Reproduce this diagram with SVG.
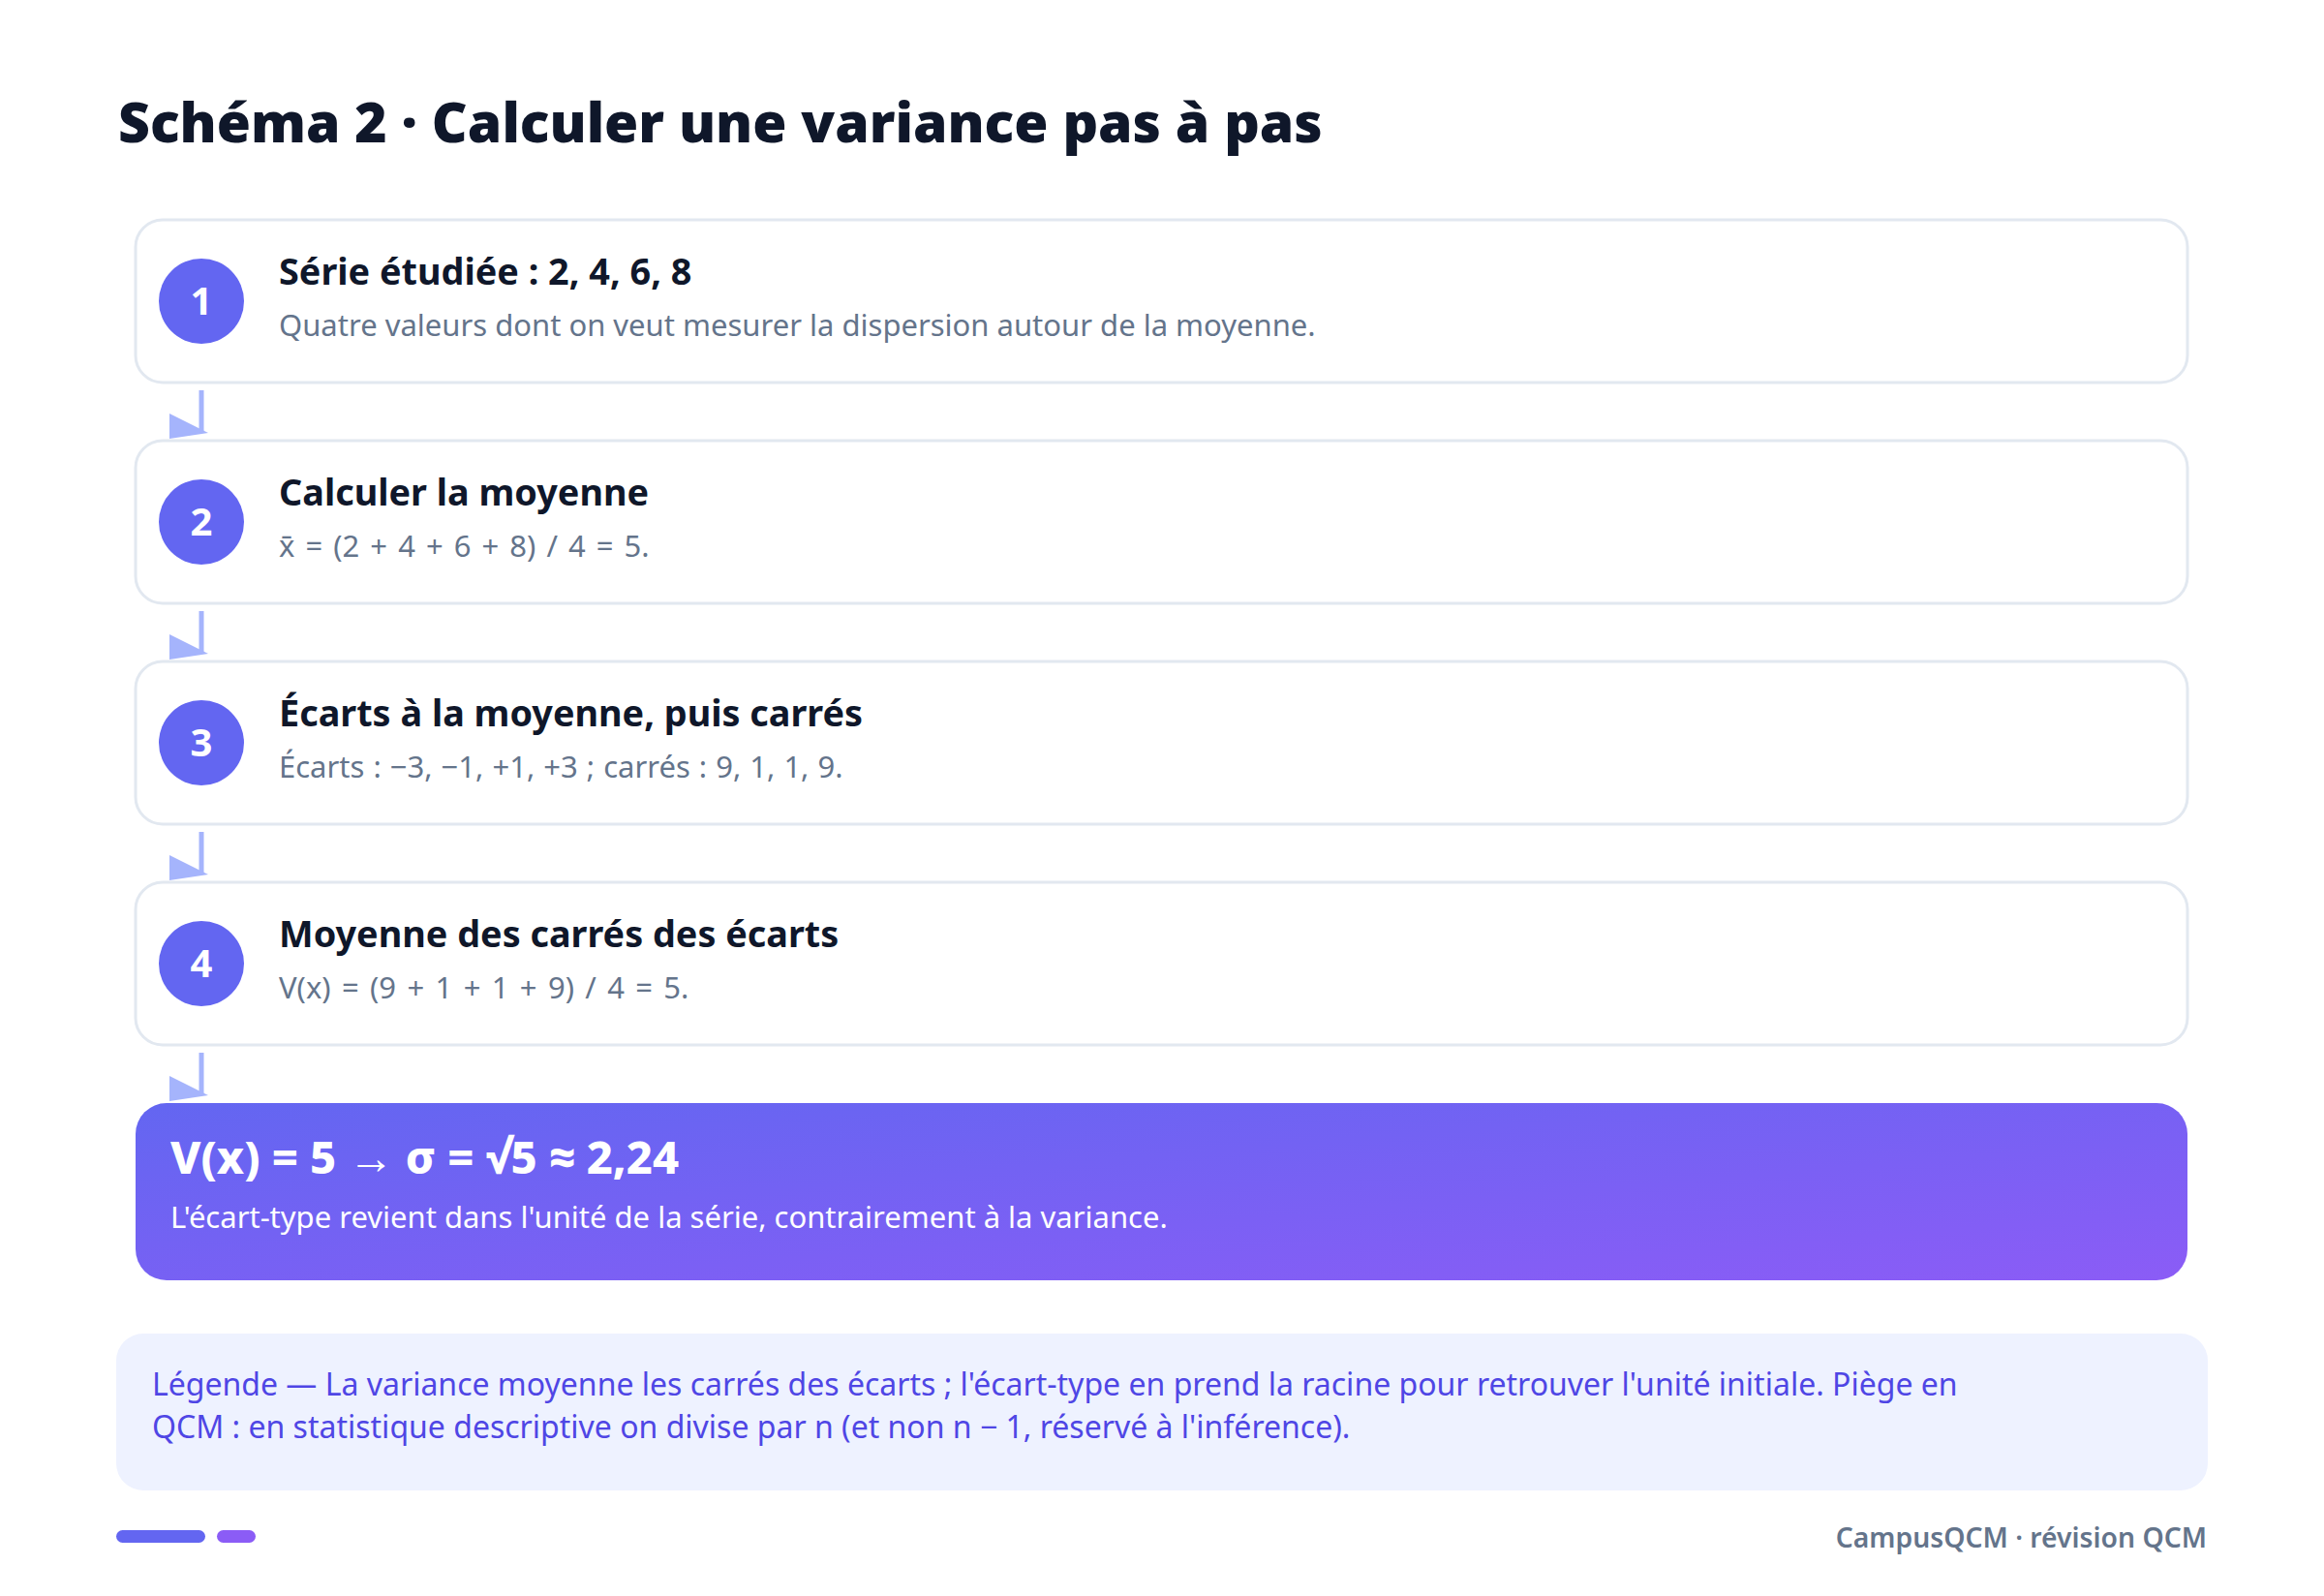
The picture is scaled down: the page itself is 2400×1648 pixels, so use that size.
<svg xmlns="http://www.w3.org/2000/svg" width="2400" height="1648" viewBox="0 0 2400 1648">
  <defs>
    <linearGradient id="resGrad" x1="0" y1="0" x2="1" y2="1">
      <stop offset="0" stop-color="#6366f1"/>
      <stop offset="1" stop-color="#8b5cf6"/>
    </linearGradient>
    <style>
      .card { fill: #ffffff; stroke: #e2e8f0; stroke-width: 3; }
      .badge { fill: #6366f1; }
      .num { font-family: "Noto Sans", "Open Sans", sans-serif; font-weight: 700; font-size: 40px; fill: #ffffff; text-anchor: middle; }
      .ttl { font-family: "Noto Sans", "Open Sans", sans-serif; font-weight: 700; font-size: 37.8px; fill: #0f172a; }
      .sub { font-family: "Noto Sans", "Open Sans", sans-serif; font-weight: 400; font-size: 31px; fill: #64748b; }
      .conn { stroke: #a5b4fc; stroke-width: 5; fill: none; }
      .head { fill: #a5b4fc; }
      .rttl { font-family: "Noto Sans", "Open Sans", sans-serif; font-weight: 800; font-size: 47px; fill: #ffffff; }
      .rsub { font-family: "Noto Sans", "Open Sans", sans-serif; font-weight: 400; font-size: 31px; fill: #ffffff; }
      .leg { font-family: "Noto Sans", "Open Sans", sans-serif; font-weight: 400; font-size: 32px; fill: #4f46e5; }
      .foot { font-family: "Noto Sans", "Open Sans", sans-serif; font-weight: 600; font-size: 28.3px; fill: #64748b; text-anchor: end; }
      .title { font-family: "Noto Sans", "Open Sans", sans-serif; font-weight: 900; font-size: 57px; fill: #0f172a; }
    </style>
  </defs>
  <rect x="0" y="0" width="2400" height="1648" fill="#ffffff"/>

  <text id="title" class="title" x="122" y="147">Schéma 2 · Calculer une variance pas à pas</text>

  <g id="connectors">
    <line class="conn" x1="208" y1="403" x2="208" y2="447"/>
    <polygon class="head" points="175,427 215,447 175,453"/>
    <line class="conn" x1="208" y1="631" x2="208" y2="675"/>
    <polygon class="head" points="175,655 215,675 175,681"/>
    <line class="conn" x1="208" y1="859" x2="208" y2="903"/>
    <polygon class="head" points="175,883 215,903 175,909"/>
    <line class="conn" x1="208" y1="1087" x2="208" y2="1131"/>
    <polygon class="head" points="175,1111 215,1131 175,1137"/>
  </g>

  <g id="step1">
    <rect class="card" x="140" y="227" width="2119" height="168" rx="28"/>
    <circle class="badge" cx="208" cy="311" r="44"/>
    <text class="num" x="208" y="325">1</text>
    <text class="ttl" x="288" y="294">Série étudiée : 2, 4, 6, 8</text>
    <text class="sub" x="288" y="347">Quatre valeurs dont on veut mesurer la dispersion autour de la moyenne.</text>
  </g>

  <g id="step2">
    <rect class="card" x="140" y="455" width="2119" height="168" rx="28"/>
    <circle class="badge" cx="208" cy="539" r="44"/>
    <text class="num" x="208" y="553">2</text>
    <text class="ttl" x="288" y="522">Calculer la moyenne</text>
    <text class="sub" x="288" y="575" word-spacing="3">x̄ = (2 + 4 + 6 + 8) / 4 = 5.</text>
  </g>

  <g id="step3">
    <rect class="card" x="140" y="683" width="2119" height="168" rx="28"/>
    <circle class="badge" cx="208" cy="767" r="44"/>
    <text class="num" x="208" y="781">3</text>
    <text class="ttl" x="288" y="750">Écarts à la moyenne, puis carrés</text>
    <text class="sub" x="288" y="803" word-spacing="1">Écarts : −3, −1, +1, +3 ; carrés : 9, 1, 1, 9.</text>
  </g>

  <g id="step4">
    <rect class="card" x="140" y="911" width="2119" height="168" rx="28"/>
    <circle class="badge" cx="208" cy="995" r="44"/>
    <text class="num" x="208" y="1009">4</text>
    <text class="ttl" x="288" y="978">Moyenne des carrés des écarts</text>
    <text class="sub" x="288" y="1031" word-spacing="3.3">V(x) = (9 + 1 + 1 + 9) / 4 = 5.</text>
  </g>

  <g id="result">
    <rect x="140" y="1139" width="2119" height="183" rx="32" fill="url(#resGrad)"/>
    <text class="rttl" x="176" y="1212">V(x) = 5 → σ = √5 ≈ 2,24</text>
    <text class="rsub" x="176" y="1268">L'écart-type revient dans l'unité de la série, contrairement à la variance.</text>
  </g>

  <g id="legend">
    <rect x="120" y="1377" width="2160" height="162" rx="28" fill="#eef2ff"/>
    <text class="leg" x="157" y="1441">Légende — La variance moyenne les carrés des écarts ; l'écart-type en prend la racine pour retrouver l'unité initiale. Piège en</text>
    <text class="leg" x="157" y="1485">QCM : en statistique descriptive on divise par n (et non n − 1, réservé à l'inférence).</text>
  </g>

  <g id="footer">
    <rect x="120" y="1580" width="92" height="13" rx="6.5" fill="#6366f1"/>
    <rect x="224" y="1580" width="40" height="13" rx="6.5" fill="#8b5cf6"/>
    <text class="foot" x="2279" y="1598">CampusQCM · révision QCM</text>
  </g>
</svg>
